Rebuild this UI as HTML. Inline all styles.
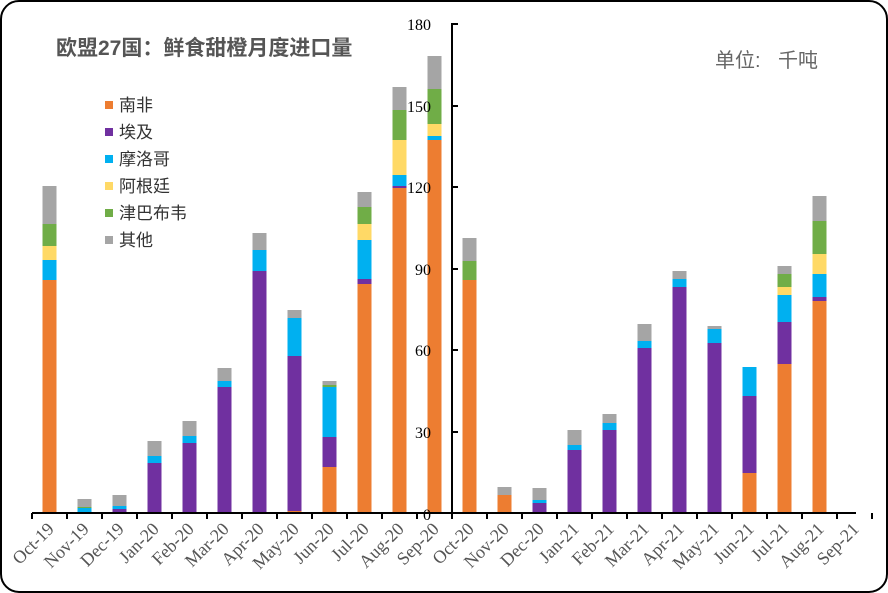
<!DOCTYPE html>
<html><head><meta charset="utf-8"><style>
html,body{margin:0;padding:0;background:#fff;}
svg{display:block;}
.t{font-family:"Liberation Serif","Noto Serif CJK SC",serif;}
</style></head><body>
<svg id="s" width="888" height="593" viewBox="0 0 888 593" xmlns="http://www.w3.org/2000/svg">
<rect x="1" y="1" width="886" height="591" rx="18" ry="18" fill="#fff" stroke="#000" stroke-width="2"/>
<g id="bars"></g>
<line x1="32" y1="513" x2="856" y2="513" stroke="#000" stroke-width="2"/>
<line x1="452" y1="23" x2="452" y2="514" stroke="#000" stroke-width="2"/>
<g stroke="#000" stroke-width="2" id="ticks">
<line x1="452" y1="24" x2="458" y2="24"/><line x1="452" y1="106" x2="458" y2="106"/>
<line x1="452" y1="187" x2="458" y2="187"/><line x1="452" y1="269" x2="458" y2="269"/>
<line x1="452" y1="350" x2="458" y2="350"/><line x1="452" y1="432" x2="458" y2="432"/>
</g>
<g class="t" font-size="16" fill="#000" text-anchor="end">
<text x="431" y="30">180</text><text x="431" y="112">150</text><text x="431" y="193">120</text>
<text x="431" y="275">90</text><text x="431" y="356">60</text><text x="431" y="438">30</text><text x="431" y="520">0</text>
</g>
<g class="t" font-size="18" fill="#555" text-anchor="end">
<text transform="translate(55,530) rotate(-45)">Oct-19</text>
<text transform="translate(90,530) rotate(-45)">Nov-19</text>
<text transform="translate(125,530) rotate(-45)">Dec-19</text>
<text transform="translate(160,530) rotate(-45)">Jan-20</text>
<text transform="translate(195,530) rotate(-45)">Feb-20</text>
<text transform="translate(230,530) rotate(-45)">Mar-20</text>
<text transform="translate(265,530) rotate(-45)">Apr-20</text>
<text transform="translate(300,530) rotate(-45)">May-20</text>
<text transform="translate(335,530) rotate(-45)">Jun-20</text>
<text transform="translate(370,530) rotate(-45)">Jul-20</text>
<text transform="translate(405,530) rotate(-45)">Aug-20</text>
<text transform="translate(440,530) rotate(-45)">Sep-20</text>
<text transform="translate(475,530) rotate(-45)">Oct-20</text>
<text transform="translate(510,530) rotate(-45)">Nov-20</text>
<text transform="translate(545,530) rotate(-45)">Dec-20</text>
<text transform="translate(580,530) rotate(-45)">Jan-21</text>
<text transform="translate(615,530) rotate(-45)">Feb-21</text>
<text transform="translate(650,530) rotate(-45)">Mar-21</text>
<text transform="translate(685,530) rotate(-45)">Apr-21</text>
<text transform="translate(720,530) rotate(-45)">May-21</text>
<text transform="translate(755,530) rotate(-45)">Jun-21</text>
<text transform="translate(790,530) rotate(-45)">Jul-21</text>
<text transform="translate(825,530) rotate(-45)">Aug-21</text>
<text transform="translate(860,530) rotate(-45)">Sep-21</text>
</g>
<text x="56" y="55" font-family="Liberation Sans,'Noto Sans CJK SC',sans-serif" font-size="21" font-weight="bold" fill="#555">欧盟27国：鲜食甜橙月度进口量</text>
<text x="715" y="67" font-family="Liberation Sans,'Noto Sans CJK SC',sans-serif" font-size="20" fill="#666">单位:<tspan x="778">千吨</tspan></text>
<g font-family="Liberation Sans,'Noto Sans CJK SC',sans-serif" font-size="17" fill="#333">
<rect x="105" y="101" width="8" height="8" fill="#ED7D31"/><text x="119" y="111">南非</text>
<rect x="105" y="128" width="8" height="8" fill="#7030A0"/><text x="119" y="138">埃及</text>
<rect x="105" y="155" width="8" height="8" fill="#00B0F0"/><text x="119" y="165">摩洛哥</text>
<rect x="105" y="182" width="8" height="8" fill="#FFD966"/><text x="119" y="192">阿根廷</text>
<rect x="105" y="209" width="8" height="8" fill="#70AD47"/><text x="119" y="219">津巴布韦</text>
<rect x="105" y="236" width="8" height="8" fill="#A5A5A5"/><text x="119" y="246">其他</text>
</g>
</svg>
<script>
var C={o:"#ED7D31",p:"#7030A0",b:"#00B0F0",y:"#FFD966",g:"#70AD47",r:"#A5A5A5"};
var D=[
[["o",280],["b",260],["y",246],["g",224],["r",186]],
[["b",508],["g",507],["r",499]],
[["p",509],["b",506],["r",495]],
[["p",463],["b",456],["r",441]],
[["p",443],["b",436],["r",421]],
[["p",387],["b",381],["r",368]],
[["p",271],["b",250],["r",233]],
[["o",511],["p",356],["b",318],["r",310]],
[["o",467],["p",437],["b",387],["g",385],["r",381]],
[["o",284],["p",279],["b",240],["y",224],["g",207],["r",192]],
[["o",188],["p",186],["b",175],["y",140],["g",110],["r",87]],
[["o",140],["b",136],["y",124],["g",89],["r",56]],
[["o",280],["g",261],["r",238]],
[["o",495],["r",487]],
[["p",503],["b",500],["r",488]],
[["p",450],["b",445],["r",430]],
[["p",430],["b",423],["r",414]],
[["p",348],["b",341],["r",324]],
[["p",287],["b",279],["r",271]],
[["p",343],["b",329],["r",326]],
[["o",473],["p",396],["b",367]],
[["o",364],["p",322],["b",295],["y",287],["g",274],["r",266]],
[["o",301],["p",297],["b",274],["y",254],["g",221],["r",196]],
[]];
var g=document.getElementById("bars"),h="";
D.forEach(function(s,i){var x=42.5+35*i,prev=513;
s.forEach(function(e){h+='<rect x="'+x+'" y="'+e[1]+'" width="14" height="'+(prev-e[1])+'" fill="'+C[e[0]]+'"/>';prev=e[1];});});
for(var i=0;i<=24;i++){var tx=32+35*i;h+='<line x1="'+tx+'" y1="513" x2="'+tx+'" y2="519" stroke="#000" stroke-width="2"/>';}
g.innerHTML=h;
</script>
</body></html>
